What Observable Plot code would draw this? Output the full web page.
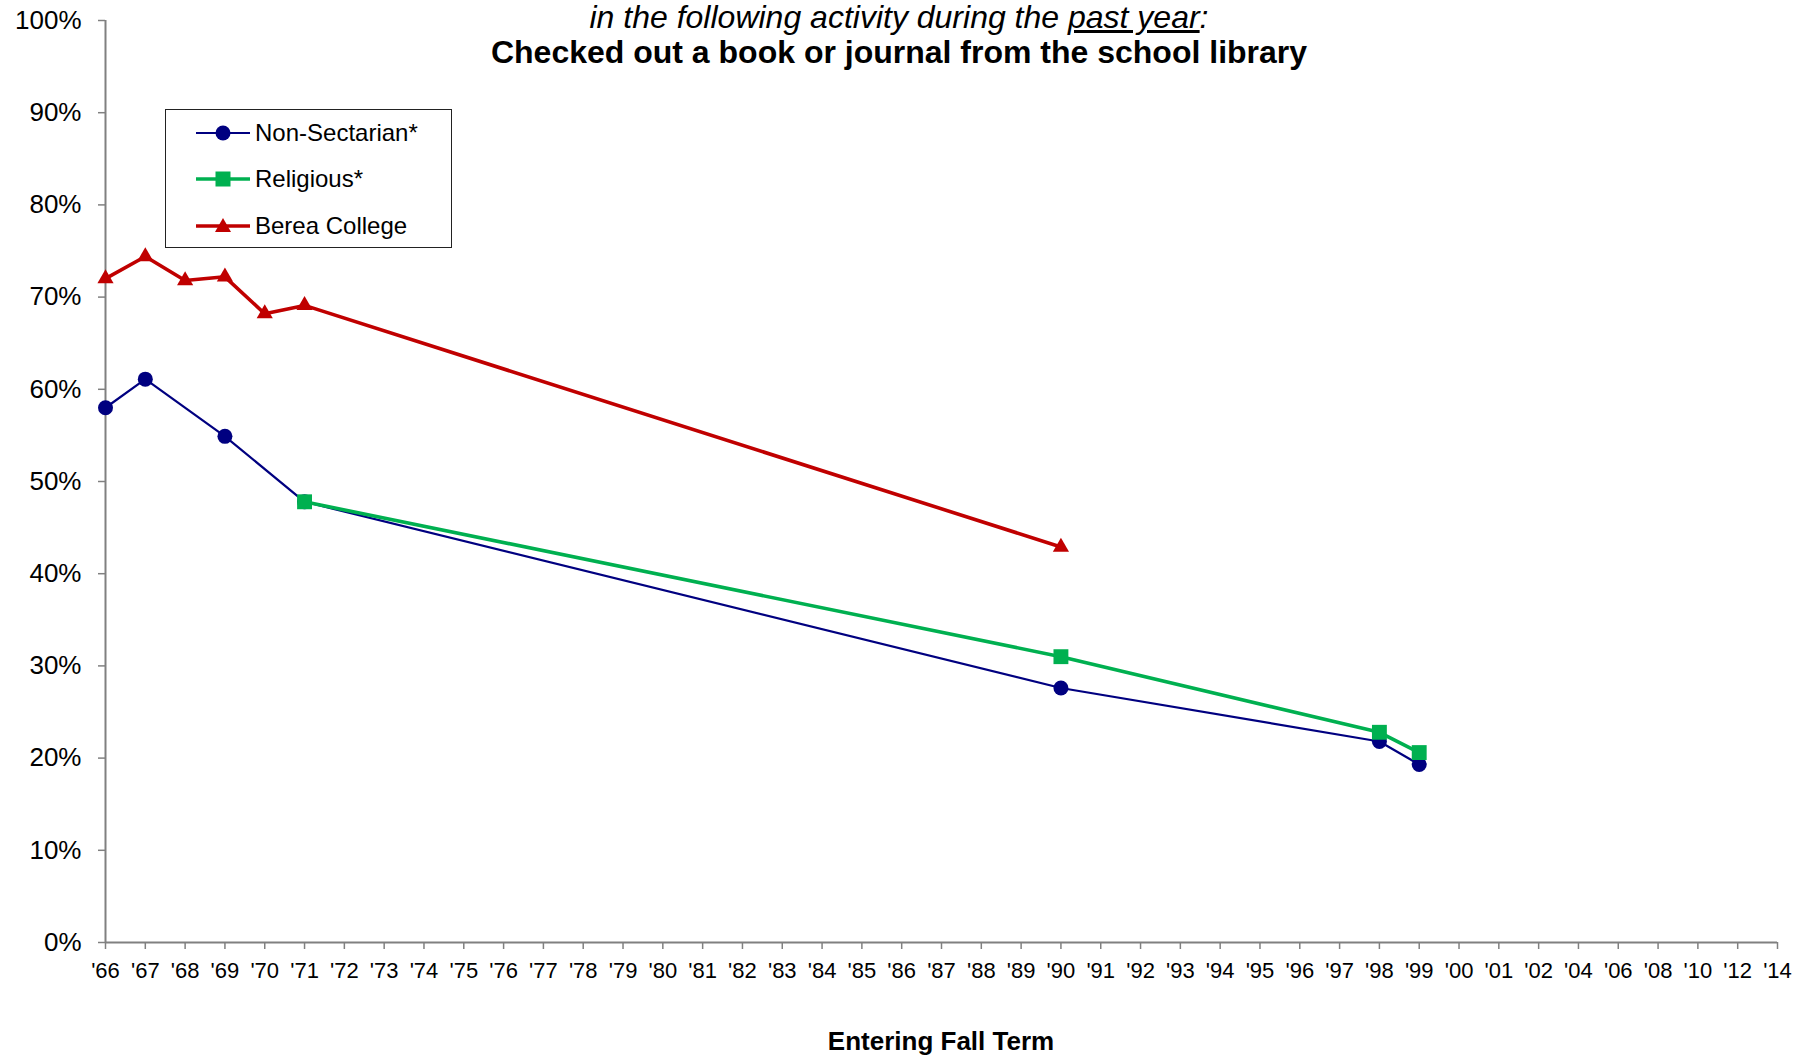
<!DOCTYPE html>
<html>
<head>
<meta charset="utf-8">
<script src="https://cdn.jsdelivr.net/npm/d3@7"></script>
<script src="https://cdn.jsdelivr.net/npm/@observablehq/plot@0.6"></script>
<style>
  html, body { margin: 0; padding: 0; background: white; }
  body { font-family: "Liberation Sans", Arial, sans-serif; }
  #wrap { position: relative; width: 1798px; height: 1058px; overflow: hidden; }
  .t { position: absolute; left: 0; width: 1798px; text-align: center; color: black; white-space: nowrap; }
  #sub { top: 1px; font-size: 32px; line-height: 32px; font-style: italic; }
  #title { top: 36px; font-size: 32px; line-height: 32px; font-weight: bold; }
  #xlabel { position: absolute; left: 105px; width: 1672px; top: 1028px; text-align: center; font-size: 26px; line-height: 26px; font-weight: bold; }
  #legend { position: absolute; left: 165px; top: 109px; width: 285px; height: 137px; border: 1.5px solid #222; background: white; }
  .row { position: absolute; left: 30px; height: 30px; display: flex; align-items: center; font-size: 24px; }
  .row svg { margin-right: 5px; }
</style>
</head>
<body>
<div id="wrap">
  <div id="chart"></div>
  <div id="sub" class="t">in the following activity during the <span style="text-decoration: underline;">past year</span>:</div>
  <div id="title" class="t">Checked out a book or journal from the school library</div>
  <div id="xlabel">Entering Fall Term</div>
  <div id="legend"></div>
</div>
<script>
const categories = ["'66","'67","'68","'69","'70","'71","'72","'73","'74","'75","'76","'77","'78","'79","'80","'81","'82","'83","'84","'85","'86","'87","'88","'89","'90","'91","'92","'93","'94","'95","'96","'97","'98","'99","'00","'01","'02","'04","'06","'08","'10","'12","'14"];

const nonSectarianYears  = ["'66","'67","'69","'71","'90","'98","'99"];
const nonSectarianValues = [58.0, 61.1, 54.9, 47.8, 27.6, 21.8, 19.3];

const religiousYears  = ["'71","'90","'98","'99"];
const religiousValues = [47.8, 31.0, 22.8, 20.6];

const bereaYears  = ["'66","'67","'68","'69","'70","'71","'90"];
const bereaValues = [72.0, 74.4, 71.8, 72.2, 68.2, 69.1, 42.9];

const yTicks = [0, 10, 20, 30, 40, 50, 60, 70, 80, 90, 100];

const seriesNames = ["Non-Sectarian*", "Religious*", "Berea College"];
const seriesColors = ["#000080", "#00B050", "#C00000"];

const toRows = (years, values) => years.map((y, i) => ({year: y, value: values[i]}));
const nonSectarian = toRows(nonSectarianYears, nonSectarianValues);
const religious = toRows(religiousYears, religiousValues);
const berea = toRows(bereaYears, bereaValues);

const chart = Plot.plot({
  width: 1798,
  height: 1058,
  marginLeft: 105,
  marginRight: 21,
  marginTop: 20,
  marginBottom: 116,
  style: { fontFamily: "'Liberation Sans', Arial, sans-serif", background: "white", color: "black" },
  x: { type: "point", domain: categories, padding: 0, label: null },
  y: { domain: [0, 100], label: null },
  marks: [
    Plot.axisY({ ticks: yTicks, tickFormat: d => d + "%", tickSize: 7, tickPadding: 17, fontSize: 26, stroke: "#808080", fill: "black", strokeWidth: 1.5, label: null }),
    Plot.axisX({ tickSize: 7, tickPadding: 13, fontSize: 22, stroke: "#808080", fill: "black", strokeWidth: 1.5, label: null }),
    Plot.ruleX([categories[0]], { stroke: "#808080", strokeWidth: 2 }),
    Plot.ruleY([0], { stroke: "#808080", strokeWidth: 2 }),
    Plot.line(nonSectarian, { x: "year", y: "value", stroke: seriesColors[0], strokeWidth: 2.2 }),
    Plot.dot(nonSectarian, { x: "year", y: "value", r: 7.5, fill: seriesColors[0], symbol: "circle" }),
    Plot.line(religious, { x: "year", y: "value", stroke: seriesColors[1], strokeWidth: 3.6 }),
    Plot.dot(religious, { x: "year", y: "value", r: 8.4, fill: seriesColors[1], symbol: "square" }),
    Plot.line(berea, { x: "year", y: "value", stroke: seriesColors[2], strokeWidth: 3.6 }),
    Plot.dot(berea, { x: "year", y: "value", r: 6.0, fill: seriesColors[2], symbol: "triangle" })
  ]
});
document.getElementById("chart").appendChild(chart);

// Legend
const legend = document.getElementById("legend");
const symbols = ["circle", "square", "triangle"];
const rowTops = [8, 54, 101];
seriesNames.forEach((name, i) => {
  const row = document.createElement("div");
  row.className = "row";
  row.style.top = rowTops[i] + "px";
  const sw = i === 0 ? 2.2 : 3.6;
  let marker;
  if (symbols[i] === "circle") marker = `<circle cx="27" cy="15" r="7.5" fill="${seriesColors[i]}"/>`;
  else if (symbols[i] === "square") marker = `<rect x="19.5" y="7.5" width="15" height="15" fill="${seriesColors[i]}"/>`;
  else marker = `<path d="M27,7 L35,21 L19,21 Z" fill="${seriesColors[i]}"/>`;
  row.innerHTML = `<svg width="54" height="30"><line x1="0" x2="54" y1="15" y2="15" stroke="${seriesColors[i]}" stroke-width="${sw}"/>${marker}</svg><span>${name}</span>`;
  legend.appendChild(row);
});
</script>
</body>
</html>
